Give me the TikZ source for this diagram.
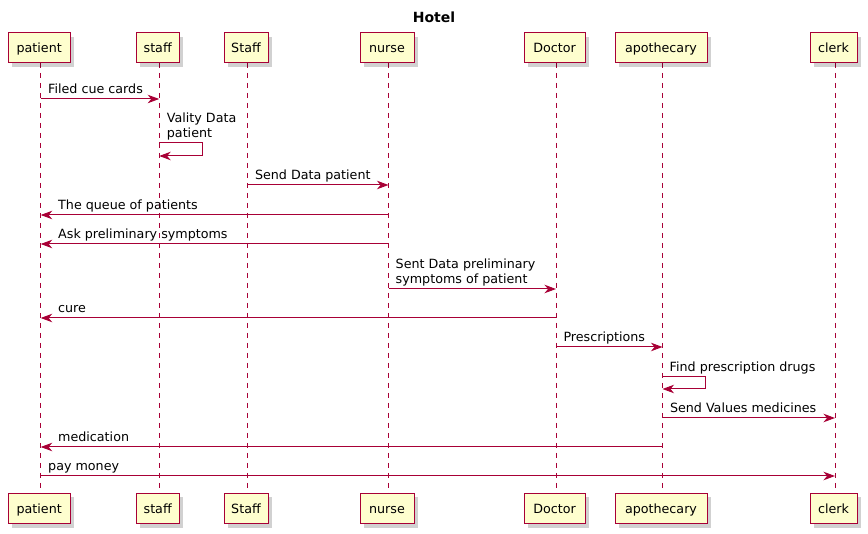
\documentclass[tikz,border=0pt]{standalone}
\usepackage{fontspec}
\setmainfont{DejaVu Sans}
\usetikzlibrary{arrows.meta,shadows}
\definecolor{plred}{HTML}{A80036}
\definecolor{plfill}{HTML}{FEFECE}

\begin{document}
\begin{tikzpicture}
    [ x=1pt, y=-1pt,
      actor/.style={draw=plred, fill=plfill, line width=1pt, minimum height=30pt, inner sep=0pt,
                    text height=11pt, text depth=1pt, font=\fontsize{12.7}{15}\selectfont,
                    drop shadow={shadow xshift=4pt, shadow yshift=-4pt, fill=black, opacity=0.18}},
      life/.style={plred, line width=0.8pt, dash pattern=on 5pt off 5pt},
      msg/.style={plred, line width=1pt, -{Stealth[length=11.5pt, width=8.5pt, inset=3.5pt]}},
      lbl/.style={black, anchor=base west, inner sep=0pt, yshift=5pt, align=left,
                  font=\fontsize{12.7}{15}\selectfont}]

  \useasboundingbox (0,0) rectangle (868,534);

%%%%%%%%%%%%%%%%%%%%%%%%%%%%%%%%%%%%%%%%%%%%%%%%%%%%%%%%%%%%%%%%%%%%%%%%%%%%%%%%%%%%%%%%%%%%%%%%%%%%%%%%%%
%participants and lifelines
  \node[font=\bfseries\fontsize{14}{16}\selectfont, anchor=base] (title) at (434,23) {Hotel};

  \foreach \n/\t/\x/\w in {patient/patient/39.2/62, staff/staff/157.7/43, staffb/Staff/246/44,
                          nurse/nurse/387/54, doctor/Doctor/554.5/61, apothecary/apothecary/661/92,
                          clerk/clerk/833.5/47}{
    \draw[life] (\x+1.5,63) -- (\x+1.5,493);
    \node[actor, minimum width=\w] (\n-top) at (\x,48) {\t};
    \node[actor, minimum width=\w] (\n-bot) at (\x,508.5) {\t};
    \coordinate (\n) at ([xshift=1.5pt]\n-top.south);
  }

%%%%%%%%%%%%%%%%%%%%%%%%%%%%%%%%%%%%%%%%%%%%%%%%%%%%%%%%%%%%%%%%%%%%%%%%%%%%%%%%%%%%%%%%%%%%%%%%%%%%%%%%%%
%messages
  \draw[msg] (patient |- 0,99) -- node[lbl, pos=0, xshift=7pt] {Filed cue cards} (staff |- 0,99);
  \draw[msg] (staff |- 0,143) -- ++(43,0) -- ++(0,13) -- (staff |- 0,156);
  \node[lbl] (vality) at ([xshift=7.5pt]staff |- 0,143) {Vality Data\\patient};
  \draw[msg] (staffb |- 0,185) -- node[lbl, pos=0, xshift=7pt] {Send Data patient} (nurse |- 0,185);
  \draw[msg] (nurse |- 0,215) -- node[lbl, pos=1, xshift=17pt] {The queue of patients} (patient |- 0,215);
  \draw[msg] (nurse |- 0,244) -- node[lbl, pos=1, xshift=17pt] {Ask preliminary symptoms} (patient |- 0,244);
  \draw[msg] (nurse |- 0,289) -- (doctor |- 0,289);
  \node[lbl] (sent) at ([xshift=7pt]nurse |- 0,289) {Sent Data preliminary\\symptoms of patient};
  \draw[msg] (doctor |- 0,318) -- node[lbl, pos=1, xshift=17pt] {cure} (patient |- 0,318);
  \draw[msg] (doctor |- 0,347) -- node[lbl, pos=0, xshift=7pt] {Prescriptions} (apothecary |- 0,347);
  \draw[msg] (apothecary |- 0,377) -- ++(43,0) -- ++(0,12) -- (apothecary |- 0,389);
  \node[lbl] (find) at ([xshift=7pt]apothecary |- 0,377) {Find prescription drugs};
  \draw[msg] (apothecary |- 0,418) -- node[lbl, pos=0, xshift=7pt] {Send Values medicines} (clerk |- 0,418);
  \draw[msg] (apothecary |- 0,447) -- node[lbl, pos=1, xshift=17pt] {medication} (patient |- 0,447);
  \draw[msg] (patient |- 0,476) -- node[lbl, pos=0, xshift=7pt] {pay money} (clerk |- 0,476);

\end{tikzpicture}
\end{document}
